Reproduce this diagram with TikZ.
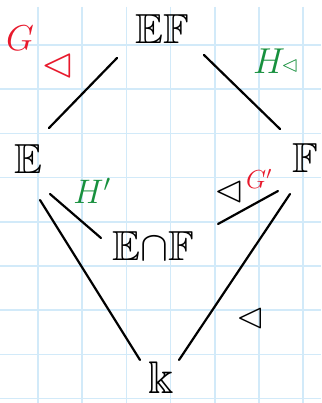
\RequirePackage{fix-cm}
\documentclass[tikz,border=0pt]{standalone}
\usepackage{amsmath}
\usepackage{amssymb}
\usepackage{xcolor}
\definecolor{gridBlue}{HTML}{D2EAF9}
\definecolor{groupRed}{HTML}{E8192C}
\definecolor{groupGreen}{HTML}{17903D}
\usetikzlibrary{calc}

\begin{document}
\begin{tikzpicture}[x=1pt, y=-1pt,
    field/.style={font=\fontsize{42}{46}\selectfont, inner sep=0pt},
    tower/.style={black, line width=2.2pt, line cap=round},
    normalsub/.style={inner sep=0pt}]
    % ══════════════════════════════════════════════
    % ══ PAPEL CUADRICULADO ══
    % ══════════════════════════════════════════════
    \useasboundingbox (0,0) rectangle (321,403);
    \fill[white] (0,0) rectangle (321,403);
    \foreach \gx in {0,...,6}
        \draw[gridBlue, line width=1.6pt] ({38+44.2*\gx},7) -- ({38+44.2*\gx},403);
    \foreach \gy in {0,...,8}
        \draw[gridBlue, line width=1.6pt] (0,{45+44.2*\gy}) -- (321,{45+44.2*\gy});

    % ══════════════════════════════════════════════
    % ══ CUERPOS ══
    % ══════════════════════════════════════════════

    % Compuesto
    \node[field] (EF) at (162,29) {$\mathbb{EF}$};

    % Extensiones intermedias
    \node[field] (E) at (28,159) {$\mathbb{E}$};
    \node[field] (F) at (305,158) {$\mathbb{F}$};

    % Interseccion
    \node[field] (EnF) at (153,246) {$\mathbb{E}{\cap}\mathbb{F}$};

    % Cuerpo base
    \node[field, font=\fontsize{46}{50}\selectfont] (k) at (161,378) {$\Bbbk$};

    % ══════════════════════════════════════════════
    % ══ RETICULO ══
    % ══════════════════════════════════════════════
    \draw[tower] ([shift={(-45,29)}]EF.center) -- ([shift={(21,-31)}]E.center);
    \draw[tower] ([shift={(42,26)}]EF.center) -- ([shift={(-25,-29)}]F.center);
    \draw[tower] ([shift={(22,35)}]E.center) -- ([shift={(-52,-8)}]EnF.center);
    \draw[tower] ([shift={(12,41)}]E.center) -- ([shift={(-21,-18)}]k.center);
    \draw[tower] ([shift={(-27,33)}]F.center) -- ([shift={(65,-22)}]EnF.center);
    \draw[tower] ([shift={(-15,36)}]F.center) -- ([shift={(18,-18)}]k.center);

    % ══════════════════════════════════════════════
    % ══ GRUPOS ══
    % ══════════════════════════════════════════════

    % G y su subgrupo normal
    \node[font=\fontsize{36}{38}\selectfont, text=groupRed] (Glab) at (20,38) {$G$};
    \node[normalsub, font=\fontsize{42}{44}\selectfont, text=groupRed] (Gtri) at (58,66) {$\lhd$};

    % H normal
    \node[font=\fontsize{36}{38}\selectfont, text=groupGreen] (Hlab) at (269,61) {$H$};
    \node[normalsub, font=\fontsize{22}{24}\selectfont, text=groupGreen] (Htri) at (290,66) {$\lhd$};

    % H'
    \node[font=\fontsize{34}{36}\selectfont, text=groupGreen] (Hp) at (92,191) {$H'$};

    % G' normal
    \node[normalsub, font=\fontsize{38}{40}\selectfont] (Gptri) at (229,192) {$\lhd$};
    \node[font=\fontsize{26}{28}\selectfont, text=groupRed] (Gp) at (259,179) {$G'$};

    % Triangulo inferior
    \node[normalsub, font=\fontsize{36}{38}\selectfont] (ktri) at (250,318) {$\lhd$};

\end{tikzpicture}
\end{document}
